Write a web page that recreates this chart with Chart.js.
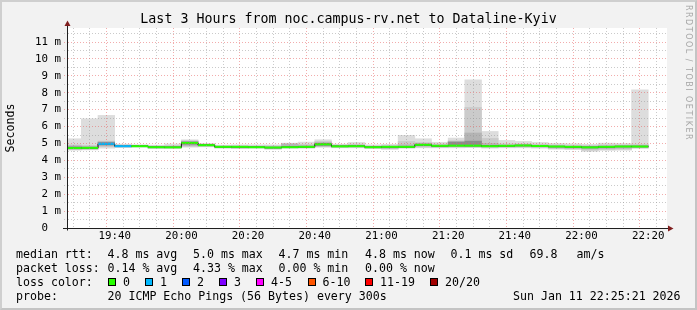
<!DOCTYPE html>
<html><head><meta charset="utf-8">
<script src="https://cdn.jsdelivr.net/npm/chart.js@4.4.1/dist/chart.umd.min.js"></script>
<style>
html,body{margin:0;padding:0;background:#f2f2f2;}
#wrap{position:relative;width:697px;height:310px;background:#f2f2f2;overflow:hidden;font-family:"DejaVu Sans Mono",monospace;color:#000;}
#c{position:absolute;left:0;top:0;}
.t{position:absolute;white-space:pre;font-size:11.6px;line-height:14px;}
.sw{position:absolute;width:6px;height:6px;border:1px solid #000;top:278px;}
#frame{position:absolute;left:0;top:0;width:693px;height:306px;border:2px solid;border-color:#cfcfcf #c4c4c4 #c4c4c4 #cfcfcf;pointer-events:none;}
#title{position:absolute;left:0;top:11px;width:697px;text-align:center;font-size:13.3px;line-height:16px;white-space:pre;}
#wm{position:absolute;left:693px;top:5px;transform-origin:0 0;transform:rotate(90deg);font-family:"DejaVu Sans",sans-serif;font-size:8px;line-height:10px;color:#a8a8a8;white-space:pre;letter-spacing:1.5px;}
</style></head>
<body>
<div id="wrap">
<canvas id="c" width="697" height="310"></canvas>
<div id="title">Last 3 Hours from noc.campus-rv.net to Dataline-Kyiv</div>
<div id="wm">RRDTOOL / TOBI OETIKER</div>

<div class="t" style="left:16px;top:247px">median rtt:</div>
<div class="t" style="left:107.5px;top:247px">4.8 ms avg</div>
<div class="t" style="left:193px;top:247px">5.0 ms max</div>
<div class="t" style="left:278.5px;top:247px">4.7 ms min</div>
<div class="t" style="left:365px;top:247px">4.8 ms now</div>
<div class="t" style="left:450.5px;top:247px">0.1 ms sd</div>
<div class="t" style="left:529.5px;top:247px">69.8</div>
<div class="t" style="left:576.5px;top:247px">am/s</div>

<div class="t" style="left:16px;top:261px">packet loss:</div>
<div class="t" style="left:107.5px;top:261px">0.14 % avg</div>
<div class="t" style="left:193px;top:261px">4.33 % max</div>
<div class="t" style="left:278.5px;top:261px">0.00 % min</div>
<div class="t" style="left:365px;top:261px">0.00 % now</div>

<div class="t" style="left:16px;top:275px">loss color:</div>
<div class="sw" style="left:108px;background:#26ff00"></div><div class="t" style="left:123px;top:275px">0</div>
<div class="sw" style="left:145px;background:#00b8ff"></div><div class="t" style="left:160px;top:275px">1</div>
<div class="sw" style="left:182px;background:#0059ff"></div><div class="t" style="left:197px;top:275px">2</div>
<div class="sw" style="left:219px;background:#7e00ff"></div><div class="t" style="left:234px;top:275px">3</div>
<div class="sw" style="left:256px;background:#ff00ff"></div><div class="t" style="left:271px;top:275px">4-5</div>
<div class="sw" style="left:307.5px;background:#ff5500"></div><div class="t" style="left:322.5px;top:275px">6-10</div>
<div class="sw" style="left:365px;background:#ff0000"></div><div class="t" style="left:380px;top:275px">11-19</div>
<div class="sw" style="left:430px;background:#a10000"></div><div class="t" style="left:445px;top:275px">20/20</div>

<div class="t" style="left:16px;top:289px">probe:</div>
<div class="t" style="left:107.5px;top:289px">20 ICMP Echo Pings (56 Bytes) every 300s</div>
<div class="t" style="left:513px;top:289px">Sun Jan 11 22:25:21 2026</div>
<div id="frame"></div>
</div>
<script>
// ---- data (5-minute steps, start time of each step) ----
const steps = ['19:25','19:30','19:35','19:40','19:45','19:50','19:55',
  '20:00','20:05','20:10','20:15','20:20','20:25','20:30','20:35','20:40','20:45','20:50','20:55',
  '21:00','21:05','21:10','21:15','21:20','21:25','21:30','21:35','21:40','21:45','21:50','21:55',
  '22:00','22:05','22:10','22:15'];
// median rtt in ms
const median = [4.73,4.74,4.98,4.84,4.84,4.78,4.77,5.03,4.90,4.80,4.80,4.78,4.76,4.78,4.80,4.95,4.83,4.84,4.78,4.80,4.80,4.92,4.86,4.87,4.87,4.84,4.86,4.88,4.85,4.82,4.80,4.77,4.80,4.82,4.82];
// lost pings out of 20
const lossCount = [0,0,1,1,0,0,0,0,0,0,0,0,0,0,0,0,0,0,0,0,0,0,0,0,0,0,0,0,0,0,0,0,0,0,0];
// smoke layers (ms)
const outerLo = [4.60,4.62,4.72,4.76,4.78,4.70,4.72,4.78,4.80,4.72,4.70,4.72,4.66,4.72,4.72,4.78,4.74,4.74,4.70,4.66,4.72,4.74,4.74,4.74,4.75,4.72,4.74,4.74,4.72,4.66,4.64,4.53,4.59,4.60,4.70];
const outerHi = [5.28,6.46,6.66,4.96,4.92,4.90,4.97,5.22,5.00,4.90,4.92,4.92,4.92,5.02,5.08,5.22,4.96,5.06,4.92,4.95,5.48,5.28,5.07,5.32,8.77,5.71,5.18,5.12,5.06,5.00,4.98,4.95,5.02,5.00,8.18];
const midLo = [4.64,4.66,4.80,4.78,4.80,4.72,4.73,4.82,4.82,4.74,4.72,4.74,4.68,4.74,4.74,4.80,4.76,4.77,4.72,4.68,4.74,4.78,4.77,4.78,4.78,4.76,4.77,4.78,4.76,4.70,4.68,4.60,4.64,4.66,4.74];
const midHi = [4.92,4.88,5.14,4.92,4.90,4.86,4.88,5.16,4.96,4.86,4.86,4.86,4.86,5.00,4.95,5.12,4.92,4.96,4.86,4.88,5.12,5.06,4.98,5.16,7.13,5.30,4.98,4.98,4.96,4.92,4.90,4.88,4.92,4.92,4.96];
const innerLo = [4.67,4.68,4.86,4.80,4.81,4.74,4.74,4.88,4.85,4.76,4.74,4.75,4.70,4.76,4.76,4.84,4.79,4.80,4.74,4.72,4.77,4.84,4.80,4.84,4.82,4.80,4.81,4.82,4.80,4.74,4.72,4.68,4.70,4.72,4.77];
const innerHi = [4.86,4.82,5.10,4.88,4.88,4.83,4.83,5.12,4.94,4.84,4.84,4.83,4.82,4.96,4.88,5.06,4.88,4.90,4.82,4.84,4.92,5.00,4.92,5.12,5.62,5.00,4.92,4.94,4.90,4.86,4.84,4.82,4.86,4.86,4.88];
const coreLo = [4.70,4.70,4.92,4.82,4.82,4.76,4.75,4.95,4.87,4.78,4.77,4.76,4.72,4.77,4.78,4.88,4.81,4.82,4.76,4.77,4.78,4.88,4.83,4.90,4.86,4.82,4.84,4.85,4.83,4.78,4.76,4.74,4.77,4.79,4.79];
const coreHi = [4.80,4.78,5.06,4.86,4.86,4.80,4.80,5.09,4.92,4.82,4.82,4.80,4.78,4.82,4.83,5.00,4.86,4.87,4.80,4.83,4.83,4.96,4.89,5.08,5.14,4.88,4.89,4.91,4.88,4.84,4.82,4.80,4.83,4.85,4.85];
const xTickLabels = ['19:40','20:00','20:20','20:40','21:00','21:20','21:40','22:00','22:20'];
const stepLen = 5; // minutes per step (300 s)

// ---- helpers ----
const toMin = s => { const p = s.split(':').map(Number); return (p[0] - 19) * 60 + p[1]; };
const stepMins = steps.map(toMin);
const centers = stepMins.map(m => m + stepLen / 2);
const band = (lo, hi) => centers.map((x, i) => ({x: x, y: [lo[i], hi[i]]}));
const labelAt = {}; xTickLabels.forEach(l => { labelAt[toMin(l)] = l; });
function lossColor(n){
  if (n === 0) return '#26ff00';
  if (n === 1) return '#00b8ff';
  if (n === 2) return '#0059ff';
  if (n === 3) return '#7e00ff';
  if (n <= 5) return '#ff00ff';
  if (n <= 10) return '#ff5500';
  if (n < 20) return '#ff0000';
  return '#a10000';
}
const medianSegs = [];
stepMins.forEach((m, i) => { medianSegs.push({x: m, y: median[i]}, {x: m + stepLen, y: median[i]}, {x: m + stepLen, y: null}); });
const stepPts = stepMins.map((m, i) => ({x: m, y: median[i]}));
stepPts.push({x: stepMins[stepMins.length - 1] + stepLen, y: median[median.length - 1]});

const MAJOR = 'rgba(230,90,90,0.5)';
const MINOR = 'rgba(150,150,150,0.5)';
const barCommon = {type: 'bar', grouped: false, barPercentage: 1, categoryPercentage: 1, borderWidth: 0};

const plotBg = {id: 'plotBg', beforeDraw(chart){
  const a = chart.chartArea, ctx = chart.ctx;
  ctx.save(); ctx.fillStyle = '#ffffff'; ctx.fillRect(a.left, a.top, a.right - a.left, a.bottom - a.top); ctx.restore();
}};
const arrows = {id: 'arrows', afterDraw(chart){
  const a = chart.chartArea, ctx = chart.ctx;
  const x0 = Math.round(a.left) + 0.5, y0 = Math.round(a.bottom) + 0.5;
  ctx.save();
  ctx.strokeStyle = '#1f1f1f'; ctx.lineWidth = 1;
  ctx.beginPath(); ctx.moveTo(x0, y0 + 2); ctx.lineTo(x0, a.top - 2); ctx.stroke();
  ctx.beginPath(); ctx.moveTo(a.left - 4, y0); ctx.lineTo(a.right + 2, y0); ctx.stroke();
  ctx.fillStyle = '#801f1f';
  ctx.beginPath(); ctx.moveTo(x0 - 3, a.top - 2); ctx.lineTo(x0 + 3, a.top - 2); ctx.lineTo(x0, a.top - 7.5); ctx.closePath(); ctx.fill();
  ctx.beginPath(); ctx.moveTo(a.right + 1, y0 - 3); ctx.lineTo(a.right + 1, y0 + 3); ctx.lineTo(a.right + 6.5, y0); ctx.closePath(); ctx.fill();
  ctx.restore();
}};

new Chart(document.getElementById('c'), {
  type: 'bar',
  data: {datasets: [
    {type: 'line', data: medianSegs, borderWidth: 2, pointRadius: 0, spanGaps: false, order: 0,
     borderColor: '#26ff00', segment: {borderColor: c => lossColor(lossCount[Math.floor(c.p0DataIndex / 3)])}},
    {type: 'line', data: stepPts, stepped: true, borderWidth: 1, borderColor: '#111111', pointRadius: 0, order: 1},
    Object.assign({data: band(coreLo, coreHi), backgroundColor: '#8c8c8c', order: 2}, barCommon),
    Object.assign({data: band(innerLo, innerHi), backgroundColor: '#b4b4b4', order: 3}, barCommon),
    Object.assign({data: band(midLo, midHi), backgroundColor: '#cbcbcb', order: 4}, barCommon),
    Object.assign({data: band(outerLo, outerHi), backgroundColor: '#dddddd', order: 5}, barCommon)
  ]},
  options: {
    responsive: false, devicePixelRatio: 1, animation: false, events: [],
    layout: {padding: {top: 28, right: 30, left: 0, bottom: 0}},
    plugins: {legend: {display: false}, tooltip: {enabled: false}, title: {display: false}},
    scales: {
      x: {type: 'linear', min: 25.7, max: 205.62, offset: false,
        afterBuildTicks: ax => { const t = []; for (let v = 30; v <= 205; v += stepLen) t.push({value: v}); ax.ticks = t; },
        afterFit: ax => { ax.height = 82; },
        grid: {z: 1, color: c => (c.tick && c.tick.value % 20 === 0) ? MAJOR : MINOR, lineWidth: 1, drawTicks: false},
        border: {z: 2, color: '#1f1f1f', width: 1, dash: [1, 2]},
        ticks: {z: 2, autoSkip: false, maxRotation: 0, padding: 2, color: '#000',
          font: {family: 'DejaVu Sans Mono', size: 10.8},
          callback: v => labelAt[v] || ''}
      },
      y: {type: 'linear', min: 0, max: 11.83,
        afterBuildTicks: ax => { const t = []; for (let v = 0; v <= 11.5; v += 0.5) t.push({value: v}); ax.ticks = t; },
        afterFit: ax => { ax.width = 67; },
        grid: {z: 1, color: c => (c.tick && c.tick.value % 1 === 0) ? MAJOR : MINOR, lineWidth: 1, drawTicks: true, tickLength: 3, tickBorderDash: [1, 2]},
        border: {z: 2, color: '#1f1f1f', width: 1, dash: [1, 2]},
        title: {display: true, text: 'Seconds', color: '#000', font: {family: 'DejaVu Sans Mono', size: 11.6}, padding: {top: 4, bottom: 0}},
        ticks: {z: 2, autoSkip: false, padding: 3, color: '#000',
          font: {family: 'DejaVu Sans Mono', size: 10.8},
          callback: v => (v % 1 === 0) ? (v === 0 ? '0  ' : v + ' m') : ''}
      }
    }
  },
  plugins: [plotBg, arrows]
});
</script>
</body></html>
